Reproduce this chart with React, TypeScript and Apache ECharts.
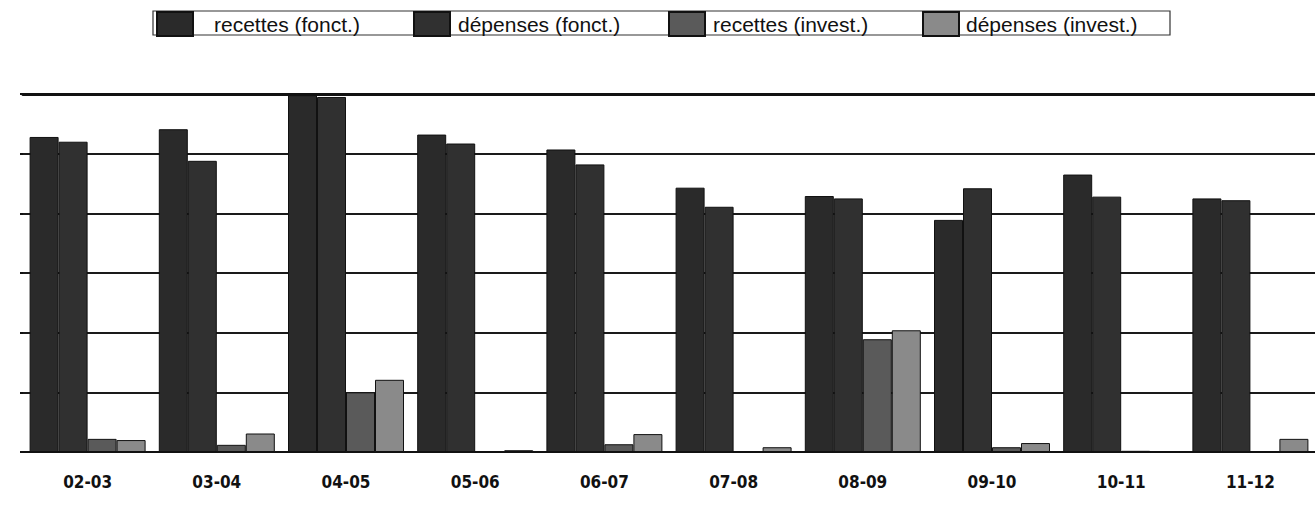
import React, { useEffect, useRef } from "react";
import * as echarts from "echarts";

const categories = ["02-03", "03-04", "04-05", "05-06", "06-07", "07-08", "08-09", "09-10", "10-11", "11-12"];
const seriesNames = ["recettes (fonct.)", "dépenses (fonct.)", "recettes (invest.)", "dépenses (invest.)"];
const recettesFonct = [528, 541, 598, 532, 507, 443, 429, 389, 465, 425];
const depensesFonct = [520, 488, 595, 517, 482, 411, 425, 442, 428, 422];
const recettesInvest = [22, 12, 100, 0, 13, 0, 189, 8, 2, 0];
const depensesInvest = [20, 31, 121, 3, 30, 8, 204, 15, 0, 22];
const yTicks = [0, 100, 200, 300, 400, 500, 600];

const colors = ["#2a2a2a", "#303030", "#5a5a5a", "#8a8a8a"];
const legendLefts = [156, 413, 668, 922];
const legendPads = [16, 3, 3, 2];

export default function App() {
  const ref = useRef<HTMLDivElement>(null);
  useEffect(() => {
    document.body.style.margin = "0";
    const chart = echarts.init(ref.current!, undefined, { renderer: "svg" });
    const values = [recettesFonct, depensesFonct, recettesInvest, depensesInvest];
    const option: any = {
      animation: false,
      backgroundColor: "#ffffff",
      grid: { left: 23, top: 94, width: 1294, bottom: 54, containLabel: false },
      legend: seriesNames.map((n, i) => ({
        data: [n],
        left: legendLefts[i],
        top: 11,
        padding: 0,
        icon: "rect",
        itemWidth: 36,
        itemHeight: 24,
        selectedMode: false,
        textStyle: {
          fontFamily: "Liberation Sans",
          fontSize: 21,
          color: "#111",
          padding: [0, 0, 0, legendPads[i]],
        },
      })),
      graphic: [
        {
          type: "rect",
          z: 0,
          shape: { x: 153, y: 11, width: 1017, height: 24 },
          style: { fill: "none", stroke: "#333", lineWidth: 1.2 },
        },
      ],
      xAxis: [
        {
          type: "category",
          data: categories,
          position: "bottom",
          axisLine: { lineStyle: { color: "#111", width: 2 } },
          axisTick: { show: false },
          axisLabel: {
            margin: 21,
            fontFamily: "DejaVu Sans Condensed",
            fontWeight: "bold",
            fontSize: 17,
            color: "#111",
          },
        },
        {
          type: "category",
          data: categories,
          position: "top",
          axisLine: { lineStyle: { color: "#111", width: 3 } },
          axisTick: { show: false },
          axisLabel: { show: false },
        },
      ],
      yAxis: {
        type: "value",
        min: yTicks[0],
        max: yTicks[yTicks.length - 1],
        interval: 100,
        axisLine: { show: false },
        axisTick: { show: true, length: 3, lineStyle: { color: "#111", width: 2 } },
        axisLabel: { show: false },
        splitLine: { lineStyle: { color: "#1a1a1a", width: 2 } },
      },
      series: seriesNames.map((n, i) => ({
        name: n,
        type: "bar",
        data: values[i],
        barWidth: 29,
        barGap: "0%",
        itemStyle: { color: colors[i], borderColor: "#111", borderWidth: 1 },
      })),
    };
    chart.setOption(option);
    return () => chart.dispose();
  }, []);
  return (
    <div
      ref={ref}
      style={{ position: "absolute", left: 0, top: 0, width: 1315, height: 506 }}
    />
  );
}
